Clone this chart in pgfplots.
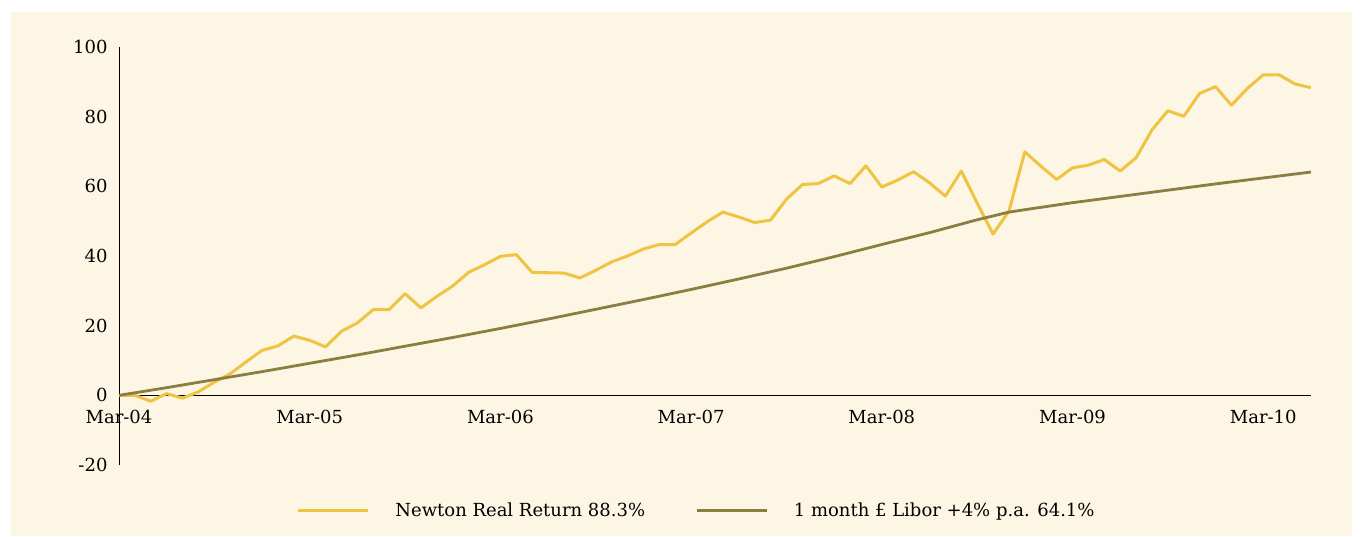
\documentclass[border=0pt]{standalone}
\usepackage{fontspec}
\setmainfont{DejaVu Serif}
\usepackage{pgfplots}
\usepackage{pgfplotstable}
\pgfplotsset{compat=1.18}
\definecolor{bgc}{RGB}{253,246,228}
\definecolor{ylw}{RGB}{238,196,66}
\definecolor{olv}{RGB}{138,126,64}

\pgfplotstableread{
m v
0 0
1 0
2 -1.7
3 0.5
4 -0.8
5 1.0
6 3.8
7 6.2
8 9.6
9 12.9
10 14.2
11 17.0
12 15.8
13 13.9
14 18.4
15 20.8
16 24.6
17 24.6
18 29.2
19 25.1
20 28.4
21 31.4
22 35.3
23 37.5
24 39.9
25 40.4
26 35.3
27 35.2
28 35.1
29 33.7
30 35.9
31 38.3
32 40.0
33 42.0
34 43.3
35 43.3
36 46.6
37 49.8
38 52.6
39 51.2
40 49.6
41 50.3
42 56.3
43 60.5
44 60.8
45 63.0
46 60.8
47 65.9
48 59.8
49 61.8
50 64.2
51 61.0
52 57.2
53 64.4
54 55.2
55 46.3
56 52.9
57 69.9
58 65.8
59 62.0
60 65.3
61 66.1
62 67.7
63 64.4
64 68.2
65 76.2
66 81.7
67 80.1
68 86.7
69 88.6
70 83.3
71 88.1
72 92.0
73 92.0
74 89.4
75 88.3
}\newton

\pgfplotstableread{
m v
0 0
3 2.2
6 4.5
9 6.8
12 9.2
15 11.6
18 14.1
21 16.6
24 19.2
27 21.9
30 24.7
33 27.5
36 30.4
39 33.4
42 36.5
45 39.8
48 43.3
51 46.7
54 50.4
56 52.6
57 53.3
60 55.3
63 57.1
66 58.9
69 60.7
72 62.4
75 64.1
}\libor

\begin{document}
\begin{tikzpicture}[x=1pt,y=1pt]
\fill[white] (0,0) rectangle (1361,536);
\fill[bgc] (11,0) rectangle (1352,524);
\begin{axis}[
  at={(119pt,71pt)}, anchor=south west,
  width=1192pt, height=418pt, scale only axis,
  xmin=0, xmax=75, ymin=-20, ymax=100,
  axis x line=middle, axis y line=left,
  axis line style={-, line width=0.9pt, black},
  xtick={0,12,24,36,48,60,72},
  xticklabels={Mar-04,Mar-05,Mar-06,Mar-07,Mar-08,Mar-09,Mar-10},
  ytick={-20,0,20,40,60,80,100},
  yticklabels={-20,0,20,40,60,80,100},
  major tick length=0pt,
  hide obscured x ticks=false, hide obscured y ticks=false,
  tick label style={font=\fontsize{18}{22}\selectfont},
  xticklabel style={anchor=north, yshift=-11pt},
  yticklabel style={anchor=east, xshift=-8pt},
  clip=false,
  legend columns=2,
  legend style={at={(0.4845,-0.108)}, anchor=center, draw=none, fill=none,
    font=\fontsize{18}{22}\selectfont,
    /tikz/every odd column/.append style={column sep=24pt},
    /tikz/every even column/.append style={column sep=48pt}},
  legend image code/.code={\draw[#1] (0pt,0pt) -- (70pt,0pt);},
]
\addplot[ylw, line width=3pt, line join=round] table[x=m,y=v]{\newton};
\addlegendentry{Newton Real Return 88.3\%}
\addplot[olv, line width=2.8pt, line join=round] table[x=m,y=v]{\libor};
\addlegendentry{1 month £ Libor +4\% p.a. 64.1\%}
\end{axis}
\end{tikzpicture}
\end{document}
